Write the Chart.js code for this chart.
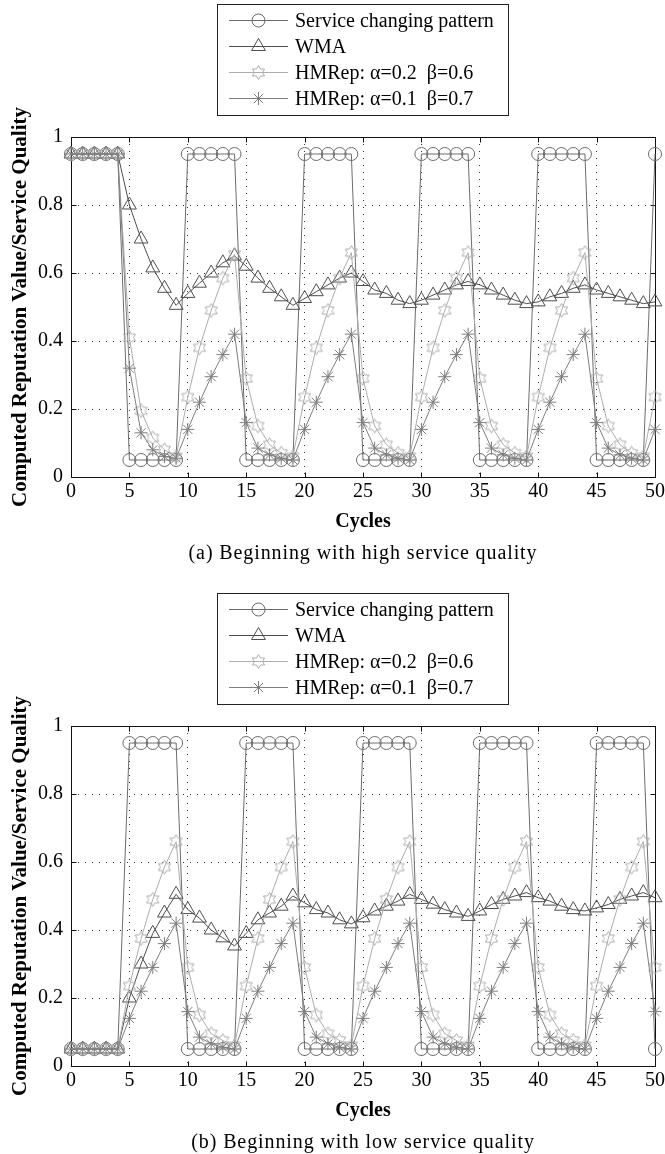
<!DOCTYPE html>
<html><head><meta charset="utf-8">
<script src="https://cdn.jsdelivr.net/npm/chart.js@4.4.1/dist/chart.umd.min.js"></script>
<style>
html,body{margin:0;padding:0;background:#fff;}
#wrap{position:relative;width:665px;height:1154px;background:#fff;}
.box{position:absolute;left:0;width:665px;height:565px;}
</style></head><body>
<div id="wrap">
<div class="box" style="top:0"><canvas id="cA"></canvas></div>
<div class="box" style="top:589px"><canvas id="cB"></canvas></div>
</div>
<script>
// ---------- data ----------
const cycles = [0,1,2,3,4,5,6,7,8,9,10,11,12,13,14,15,16,17,18,19,20,21,22,23,24,25,26,27,28,29,30,31,32,33,34,35,36,37,38,39,40,41,42,43,44,45,46,47,48,49,50];
const xTickValues = [0,5,10,15,20,25,30,35,40,45,50];
const yTickValues = [0,0.2,0.4,0.6,0.8,1];
const seriesLabels = ['Service changing pattern','WMA','HMRep: \u03b1=0.2  \u03b2=0.6','HMRep: \u03b1=0.1  \u03b2=0.7'];
const xTitle = 'Cycles';
const yTitle = 'Computed Reputation Value/Service Quality';
const captions = ['(a) Beginning with high service quality','(b) Beginning with low service quality'];

// (a) beginning with high service quality
const serviceA = [0.95,0.95,0.95,0.95,0.95, 0.05,0.05,0.05,0.05,0.05, 0.95,0.95,0.95,0.95,0.95, 0.05,0.05,0.05,0.05,0.05, 0.95,0.95,0.95,0.95,0.95, 0.05,0.05,0.05,0.05,0.05, 0.95,0.95,0.95,0.95,0.95, 0.05,0.05,0.05,0.05,0.05, 0.95,0.95,0.95,0.95,0.95, 0.05,0.05,0.05,0.05,0.05, 0.95];
const wmaA = [0.95,0.95,0.95,0.95,0.95, 0.80,0.70,0.615,0.555,0.505, 0.54,0.57,0.60,0.63,0.65, 0.62,0.585,0.555,0.53,0.505, 0.525,0.545,0.565,0.585,0.60, 0.575,0.55,0.54,0.52,0.51, 0.52,0.535,0.55,0.565,0.575, 0.565,0.55,0.535,0.52,0.51, 0.515,0.53,0.54,0.555,0.565, 0.55,0.54,0.53,0.52,0.51, 0.515];
const hmrep1A = [0.95,0.95,0.95,0.95,0.95, 0.41,0.195,0.115,0.08,0.06, 0.235,0.38,0.49,0.585,0.655, 0.29,0.15,0.095,0.07,0.06, 0.235,0.38,0.49,0.585,0.66, 0.29,0.15,0.095,0.07,0.06, 0.235,0.38,0.49,0.585,0.66, 0.29,0.15,0.095,0.07,0.06, 0.235,0.38,0.49,0.585,0.66, 0.29,0.15,0.095,0.07,0.06, 0.235];
const hmrep2A = [0.95,0.95,0.95,0.95,0.95, 0.32,0.13,0.08,0.06,0.055, 0.14,0.22,0.295,0.36,0.42, 0.16,0.085,0.065,0.055,0.05, 0.14,0.22,0.295,0.36,0.42, 0.16,0.085,0.065,0.055,0.05, 0.14,0.22,0.295,0.36,0.42, 0.16,0.085,0.065,0.055,0.05, 0.14,0.22,0.295,0.36,0.42, 0.16,0.085,0.065,0.055,0.05, 0.14];

// (b) beginning with low service quality
const serviceB = [0.05,0.05,0.05,0.05,0.05, 0.95,0.95,0.95,0.95,0.95, 0.05,0.05,0.05,0.05,0.05, 0.95,0.95,0.95,0.95,0.95, 0.05,0.05,0.05,0.05,0.05, 0.95,0.95,0.95,0.95,0.95, 0.05,0.05,0.05,0.05,0.05, 0.95,0.95,0.95,0.95,0.95, 0.05,0.05,0.05,0.05,0.05, 0.95,0.95,0.95,0.95,0.95, 0.05];
const wmaB = [0.05,0.05,0.05,0.05,0.05, 0.20,0.30,0.39,0.45,0.505, 0.46,0.435,0.40,0.377,0.353, 0.39,0.43,0.45,0.47,0.50, 0.48,0.46,0.45,0.43,0.418, 0.436,0.456,0.47,0.485,0.505, 0.49,0.476,0.46,0.45,0.44, 0.456,0.475,0.49,0.50,0.51, 0.495,0.485,0.47,0.46,0.456, 0.465,0.475,0.49,0.50,0.51, 0.495];
const hmrep1B = [0.05,0.05,0.05,0.05,0.05, 0.235,0.375,0.49,0.585,0.66, 0.29,0.15,0.095,0.075,0.06, 0.235,0.375,0.49,0.585,0.66, 0.29,0.15,0.095,0.075,0.06, 0.235,0.375,0.49,0.585,0.66, 0.29,0.15,0.095,0.075,0.06, 0.235,0.375,0.49,0.585,0.66, 0.29,0.15,0.095,0.075,0.06, 0.235,0.375,0.49,0.585,0.66, 0.29];
const hmrep2B = [0.05,0.05,0.05,0.05,0.05, 0.14,0.22,0.29,0.36,0.42, 0.16,0.085,0.065,0.055,0.05, 0.14,0.22,0.29,0.36,0.42, 0.16,0.085,0.065,0.055,0.05, 0.14,0.22,0.29,0.36,0.42, 0.16,0.085,0.065,0.055,0.05, 0.14,0.22,0.29,0.36,0.42, 0.16,0.085,0.065,0.055,0.05, 0.14,0.22,0.29,0.36,0.42, 0.16];

// ---------- styles ----------
const FONT = "'Liberation Serif','Times New Roman',serif";
const colService = '#6c6c6c';
const colWMA = '#4e4e4e';
const colHM1 = '#adadad';
const colHM2 = '#7e7e7e';

function hexagram(color){
  const c = document.createElement('canvas');
  c.width = 17; c.height = 17;
  const g = c.getContext('2d');
  g.strokeStyle = color; g.lineWidth = 1;
  const cx = 8.5, cy = 8.5, R = 7, r = 7/Math.sqrt(3);
  g.beginPath();
  for (let k=0;k<12;k++){
    const a = -Math.PI/2 + k*Math.PI/6;
    const rr = (k%2===0)?R:r;
    const px = cx + rr*Math.cos(a), py = cy + rr*Math.sin(a);
    if(k===0) g.moveTo(px,py); else g.lineTo(px,py);
  }
  g.closePath(); g.stroke();
  return c;
}
const hexImg = hexagram(colHM1);

function toXY(arr){ return cycles.map((c,i)=>({x:c,y:arr[i]})); }

const legendPlugin = {
  id:'matlabLegend',
  afterDraw(chart, args, opts){
    const ctx = chart.ctx;
    const bx = 217.5, by = 4.5, bw = 291, bh = 111;
    ctx.save();
    ctx.fillStyle = '#fff';
    ctx.fillRect(bx,by,bw,bh);
    ctx.strokeStyle = '#222'; ctx.lineWidth = 1;
    ctx.strokeRect(bx,by,bw,bh);
    const rows = [20,46,72,98];
    [0,1,2,3].forEach((di,i)=>{
      const ds = chart.data.datasets[di];
      const y = rows[i]+0.5;
      ctx.strokeStyle = ds.borderColor; ctx.lineWidth = 1;
      ctx.beginPath(); ctx.moveTo(229,y); ctx.lineTo(288,y); ctx.stroke();
      ctx.fillStyle = 'rgba(0,0,0,0)';
      ctx.strokeStyle = ds.pointBorderColor;
      Chart.helpers.drawPoint(ctx,{pointStyle:ds.pointStyle,radius:ds.pointRadius,rotation:0,borderWidth:1},258.5,y);
      ctx.fillStyle = '#000';
      ctx.font = '20px ' + FONT;
      ctx.textBaseline = 'middle'; ctx.textAlign = 'left';
      ctx.fillText(ds.label, 295, y+1);
    });
    // caption below the axis
    const cap = chart.options.plugins.matlabLegend.caption;
    ctx.font = '20px ' + FONT;
    ctx.fillStyle = '#000';
    ctx.textAlign = 'center'; ctx.textBaseline = 'middle';
    try { ctx.letterSpacing = '0.9px'; } catch(e) {}
    ctx.fillText(cap, (chart.chartArea.left + chart.chartArea.right)/2, 554);
    ctx.restore();
  }
};

const framePlugin = {
  id:'matlabFrame',
  beforeDatasetsDraw(chart){
    const {ctx, chartArea:a, scales} = chart;
    ctx.save();
    ctx.strokeStyle = '#111'; ctx.lineWidth = 1;
    const L = Math.round(a.left)+0.5, R = Math.round(a.right)+0.5, T = Math.round(a.top)+0.5, B = Math.round(a.bottom)+0.5;
    ctx.strokeRect(L,T,R-L,B-T);
    const tl = 5;
    ctx.beginPath();
    scales.x.ticks.forEach(t=>{
      const px = Math.round(scales.x.getPixelForValue(t.value))+0.5;
      ctx.moveTo(px,B); ctx.lineTo(px,B-tl);
      ctx.moveTo(px,T); ctx.lineTo(px,T+tl);
    });
    scales.y.ticks.forEach(t=>{
      const py = Math.round(scales.y.getPixelForValue(t.value))+0.5;
      ctx.moveTo(L,py); ctx.lineTo(L+tl,py);
      ctx.moveTo(R,py); ctx.lineTo(R-tl,py);
    });
    ctx.stroke();
    ctx.restore();
  }
};

function makeChart(id, sv, wm, h1, h2, caption){
  const mk = (label, arr, color, style, radius, order) => ({
    label, data: toXY(arr), borderColor: color, borderWidth: 1,
    pointStyle: style, pointRadius: radius, pointBorderColor: color,
    pointBackgroundColor: 'rgba(0,0,0,0)', pointBorderWidth: 1,
    pointHoverRadius: radius, tension: 0, fill: false, clip: false, order
  });
  return new Chart(document.getElementById(id), {
    type: 'line',
    data: { datasets: [
      mk(seriesLabels[0], sv, colService, 'circle', 6.5, 3),
      mk(seriesLabels[1], wm, colWMA, 'triangle', 8, 2),
      mk(seriesLabels[2], h1, colHM1, hexImg, 7, 1),
      mk(seriesLabels[3], h2, colHM2, 'star', 6.5, 0)
    ]},
    options: {
      responsive: true, maintainAspectRatio: false, animation: false, devicePixelRatio: 1,
      layout: { padding: { top: 137, right: 10, left: 0, bottom: 24 } },
      plugins: {
        legend: { display: false }, tooltip: { enabled: false },
        title: { display: false },
        matlabLegend: { caption }
      },
      scales: {
        x: {
          type: 'linear', min: 0, max: 50,
          afterBuildTicks: s => { s.ticks = xTickValues.map(v=>({value:v})); },
          afterFit: s => { s.height = 64; s.paddingLeft = 0; s.paddingRight = 0; },
          grid: { color: '#333', lineWidth: 1, drawTicks: false },
          border: { display: false, dash: [1,6] },
          ticks: { color: '#000', padding: 3, font: { family: FONT, size: 20 }, maxRotation: 0, autoSkip: false },
          title: { display: true, text: xTitle, color: '#000', font: { family: FONT, size: 20, weight: 'bold', lineHeight: 1.2 }, padding: { top: 0, bottom: 7 } }
        },
        y: {
          type: 'linear', min: 0, max: 1,
          afterBuildTicks: s => { s.ticks = yTickValues.map(v=>({value:v})); },
          afterFit: s => { s.width = 71; s.paddingTop = 0; s.paddingBottom = 0; },
          grid: { color: '#333', lineWidth: 1, drawTicks: false },
          border: { display: false, dash: [1,6] },
          ticks: { color: '#000', padding: 8, font: { family: FONT, size: 20 }, callback: v => String(Math.round(v*10)/10) },
          title: { display: true, text: yTitle, color: '#000', font: { family: FONT, size: 21, weight: 'bold', lineHeight: 1.2 }, padding: { top: 8, bottom: 0 } }
        }
      }
    },
    plugins: [framePlugin, legendPlugin]
  });
}

makeChart('cA', serviceA, wmaA, hmrep1A, hmrep2A, captions[0]);
makeChart('cB', serviceB, wmaB, hmrep1B, hmrep2B, captions[1]);
</script>
</body></html>
